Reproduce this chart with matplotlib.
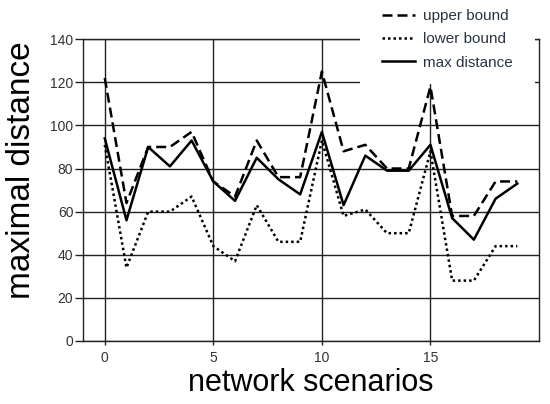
import numpy as np
import matplotlib.pyplot as plt
from matplotlib.patches import Rectangle

# ========= data =========
scenarios = list(range(20))
upper_bound = [122, 64, 90, 90, 97, 74, 67, 93, 76, 76,
               125, 88, 91, 80, 80, 118, 58, 58, 74, 74]
lower_bound = [91, 34, 60, 60, 67, 44, 37, 63, 46, 46,
               93, 58, 61, 50, 50, 88, 28, 28, 44, 44]
max_distance = [94, 56, 90, 81, 93, 74, 65, 85, 75, 68,
                97, 63, 86, 79, 79, 91, 57, 47, 66, 73]

x_ticks = [0, 5, 10, 15]
y_ticks = [0, 20, 40, 60, 80, 100, 120, 140]

plt.rcParams.update({"font.family": "Liberation Sans"})

fig = plt.figure(figsize=(5.5, 4.04), dpi=100)
ax = fig.add_axes([0.151, 0.156, 0.829, 0.747])

ax.plot(scenarios, upper_bound, color="black", linestyle=(0, (4, 2)),
        linewidth=1.8, label="upper bound")
ax.plot(scenarios, lower_bound, color="black", linestyle=(0, (1, 1.2)),
        linewidth=1.8, label="lower bound")
ax.plot(scenarios, max_distance, color="black", linestyle="-",
        linewidth=1.8, label="max distance")

ax.set_xlim(-1, 20)
ax.set_ylim(0, 140)
ax.set_xticks(x_ticks)
ax.set_yticks(y_ticks)
ax.grid(True, color="#222222", linewidth=1.0)
ax.set_axisbelow(True)
for sp in ax.spines.values():
    sp.set_color("#222222")
    sp.set_linewidth(1.0)

ax.tick_params(axis="y", length=6, width=1.0, color="#222222",
               labelsize=10, labelcolor="#333333", pad=1)
ax.tick_params(axis="x", length=3, width=1.0, color="#222222",
               labelsize=10, labelcolor="#333333", pad=4)

ax.set_ylabel("maximal distance", fontsize=24)
ax.yaxis.set_label_coords(-0.10, 0.566)
ax.set_xlabel("network scenarios", fontsize=22)
ax.xaxis.set_label_coords(0.5, -0.09)

# white block behind the legend, hides the grid there
fig.patches.append(Rectangle((0.6545, 0.792), 0.318, 0.21,
                             transform=fig.transFigure, facecolor="white",
                             edgecolor="none", zorder=2))

leg = fig.legend(loc="upper left", bbox_to_anchor=(0.694, 0.978),
                 frameon=False, fontsize=11, handlelength=2.2,
                 handletextpad=0.5, labelspacing=0.62, borderpad=0.0,
                 borderaxespad=0.0)
leg.set_zorder(5)
for t in leg.get_texts():
    t.set_color("#2a3447")

fig.savefig("out.png", dpi=100)
